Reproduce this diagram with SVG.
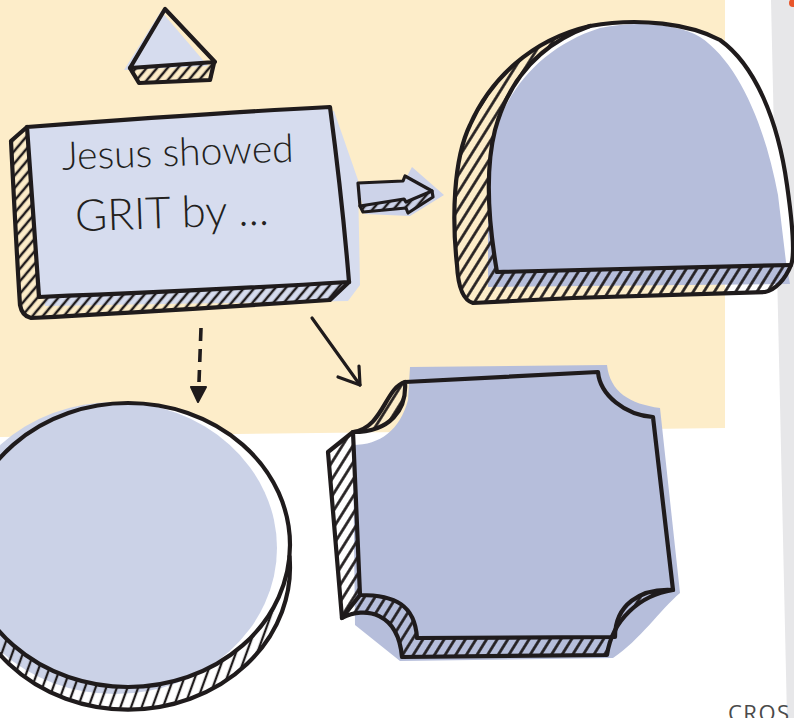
<svg xmlns="http://www.w3.org/2000/svg" width="794" height="718" viewBox="0 0 794 718">
<style>
.ln{fill:none;stroke:#1f1b1c;stroke-width:4.2;stroke-linejoin:round;stroke-linecap:round}
.thin{fill:none;stroke:#1f1b1c;stroke-width:3.2;stroke-linejoin:round;stroke-linecap:round}
.hand{font-family:Lato,"Open Sans","Liberation Sans",sans-serif;font-weight:300;fill:#231f20}
</style>
<defs>
<pattern id="h1" patternUnits="userSpaceOnUse" width="8" height="20" patternTransform="rotate(40)"><line x1="4" y1="0" x2="4" y2="20" stroke="#1f1b1c" stroke-width="2.5"/></pattern>
<pattern id="h2" patternUnits="userSpaceOnUse" width="9" height="20" patternTransform="rotate(32)"><line x1="4.5" y1="0" x2="4.5" y2="20" stroke="#1f1b1c" stroke-width="2.7"/></pattern>
<pattern id="h3" patternUnits="userSpaceOnUse" width="10" height="20" patternTransform="rotate(20)"><line x1="5" y1="0" x2="5" y2="20" stroke="#1f1b1c" stroke-width="2.3"/></pattern>
</defs>

<!-- background -->
<rect x="0" y="0" width="794" height="718" fill="#ffffff"/>
<path d="M0,0 H725 V428 L0,437 Z" fill="#fdedc9"/>
<path d="M771,0 H794 V718 H787 Z" fill="#e7e7e9"/>
<circle cx="793" cy="3" r="4" fill="#e8552a"/>
<text x="728" y="721" font-family="'Open Sans','Liberation Sans',sans-serif" font-size="22" letter-spacing="1.5" fill="#4a4a4a">CROS</text>

<g id="triangle">
<polygon points="161,11 124,70 208,66" fill="#d6dcee"/>
<path d="M130,68 L215,62 L212,79 L140,84 L129,71 Z" fill="url(#h1)"/>
<path class="ln" d="M165,9 L130,68 L215,62 Z"/>
<path class="ln" d="M130,68 L139,83 L210,80 L214,63"/>
</g>

<g id="text-box">
<polygon points="33,130 334,111 358,180 360,285 348,301 45,306" fill="#d6dcee"/>
<path d="M27,127 C120,120 230,112 330,107 C337,160 344,220 349,282 C250,288 140,293 39,297 C35,240 31,180 27,127 Z" fill="#d6dcee"/>
<path d="M27,127 L11,141 C14,200 17,260 20,305 Q22,316 31,318 L39,297 Z" fill="url(#h1)"/>
<path d="M39,297 L31,318 C130,313 240,306 330,300 L349,282 Z" fill="url(#h1)"/>
<path class="ln" d="M27,127 C120,120 230,112 330,107 C337,160 344,220 349,282 C250,288 140,293 39,297 C35,240 31,180 27,127 Z"/>
<path class="ln" d="M27,127 L11,141 C14,200 17,260 20,305 Q22,316 31,318 C130,313 240,306 330,300 L349,282"/>
<g transform="rotate(-2 170 190)">
<text class="hand" x="63" y="166" font-size="39">Jesus showed</text>
<text class="hand" x="74" y="228" font-size="44">GRIT by ...</text>
</g>
</g>

<g id="dome">
<path d="M497,272 C488,220 485,170 495,130 C510,75 545,42 590,26 C640,17 690,24 720,40 C755,65 778,120 787,185 C792,220 795,255 791,265 Z" fill="#ffffff"/>
<path d="M488,287 L488,175 C490,110 530,50 600,28 C640,20 680,25 700,37 C738,62 765,125 778,195 L786,262 L790,284 Z" fill="#b6bedb"/>
<path d="M590,26 C530,40 490,80 470,125 C453,160 452,220 457,265 C458,285 462,300 473,303 L573,298 L765,292 C775,290 785,280 791,265 L497,272 C488,220 485,170 495,130 C510,75 545,42 590,26 Z" fill="url(#h2)"/>
<path class="ln" d="M473,303 C462,300 458,285 457,265 C452,220 453,160 470,125 C490,80 530,40 590,26 C640,17 690,24 720,40 C755,65 778,120 787,185 C792,220 795,255 791,265 C785,280 775,290 765,292 L573,298 Z"/>
<path class="ln" d="M497,272 C488,220 485,170 495,130 C510,75 545,42 590,26"/>
<path class="ln" d="M497,272 L791,265"/>
</g>

<g id="circle">
<path d="M-33.5,556.5 A162,142 0 1 0 289.5,556.5 A162,142 0 0 1 -33.5,556.5 Z" fill="#ffffff"/>
<ellipse cx="128" cy="545" rx="162" ry="142" fill="#ffffff"/>
<ellipse cx="115" cy="548" rx="162" ry="146" fill="#cbd2e7"/>
<path d="M-33.5,556.5 A162,142 0 1 0 289.5,556.5 A162,142 0 0 1 -33.5,556.5 Z" fill="url(#h3)"/>
<ellipse class="ln" cx="128" cy="545" rx="162" ry="142"/>
<path class="ln" d="M-33.5,556.5 A162,142 0 1 0 289.5,556.5"/>
</g>

<g id="notched-square">
<path d="M410,367 L607,365 C610,392 630,404 660,408 L680,593 C660,610 640,640 613,658 L400,661 L355,625 L353,445 C380,445 400,430 408,400 Z" fill="#b6bedb"/>
<path d="M353,432 L328,452 L342,618 L360,595 Z" fill="url(#h2)"/>
<path d="M360,595 L342,618 C365,606 398,612 402,657 L607,655 C612,620 640,595 673,590 C640,588 615,605 615,637 L417,638 C415,605 395,595 360,595 Z" fill="url(#h2)"/>
<path d="M405,382 C385,388 383,428 353,432 C390,432 407,410 405,382 Z" fill="url(#h2)"/>
<path class="ln" d="M405,382 L598,372 C600,395 625,415 653,417 L673,590 C640,588 615,605 615,637 L417,638 C415,605 395,595 360,595 L353,432 C390,432 407,410 405,382 Z"/>
<path class="ln" d="M405,382 C385,388 383,428 353,432 L328,452 L342,618 L360,595"/>
<path class="ln" d="M342,618 C365,606 398,612 402,657 L607,655 C612,620 640,595 673,590"/>
</g>

<g id="connectors">
<g id="block-arrow">
<polygon points="357,184 405,180 412,167 444,195 410,216 365,214" fill="#cdd3e9"/>
<polygon points="360,206 404,199 406,202 432,191 433,197 408,213 406,208 363,212" fill="url(#h1)"/>
<path class="thin" d="M358,183 L403,181 L405,176 L432,191 L406,202 L404,199 L360,206 Z"/>
<path class="thin" d="M360,206 L363,212 L406,208 L408,213 L433,197 L432,191"/>
</g>
<path d="M201,328 L199,382" fill="none" stroke="#1f1b1c" stroke-width="3.6" stroke-dasharray="13 8"/>
<path d="M191,387 L206,387 L198,402 Z" fill="#1f1b1c" stroke="#1f1b1c" stroke-width="2" stroke-linejoin="round"/>
<path class="thin" d="M312,318 L360,385"/>
<path class="thin" d="M338,377 L360,385 L359,366"/>
</g>
</svg>
